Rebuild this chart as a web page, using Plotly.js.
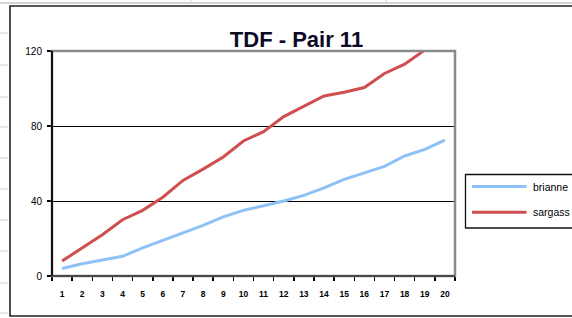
<!DOCTYPE html>
<html>
<head>
<meta charset="utf-8">
<script src="https://cdn.plot.ly/plotly-3.0.1.min.js"></script>
<style>html,body{margin:0;padding:0;background:#fff;}#chart{width:572px;height:318px;}</style>
</head>
<body>
<div id="chart"></div>
<script>
var categories = ["1","2","3","4","5","6","7","8","9","10","11","12","13","14","15","16","17","18","19","20"];
var brianneValues = [4, 6.5, 8.5, 10.5, 15, 19, 23, 27, 31.5, 35, 37.5, 40, 43, 47, 51.5, 55, 58.5, 64, 67.5, 72.5];
var sargassValues = [8, 15, 22, 30, 35, 42, 51, 57, 63.5, 72, 77, 85, 90.5, 96, 98, 100.5, 108, 113, 120.5, 128];
var seriesNames = ["brianne", "sargass"];
var yTicks = [0, 40, 80, 120];
var titleText = "TDF - Pair 11";

var seriesColors = ['#8ec1f6', '#cf4f4f'];

// plot area in pixels: left 52, right 455, top 51, bottom 276
function px(x){ return (x - 52) / 403; }
function py(y){ return (276 - y) / 225; }

var shapes = [];
var annotations = [];
// spreadsheet cell lines behind the chart
shapes.push({type:'line', xref:'paper', yref:'paper', x0:px(-5), x1:px(580), y0:py(3), y1:py(3), line:{color:'#d4d4d4', width:2}, layer:'below'});
shapes.push({type:'line', xref:'paper', yref:'paper', x0:px(191), x1:px(191), y0:py(-2), y1:py(4), line:{color:'#d4d4d4', width:1}, layer:'below'});
shapes.push({type:'line', xref:'paper', yref:'paper', x0:px(386), x1:px(386), y0:py(-2), y1:py(4), line:{color:'#d4d4d4', width:1}, layer:'below'});
[33, 65, 97, 127, 158, 189, 220, 251, 283, 313].forEach(function(v){
  shapes.push({type:'line', xref:'paper', yref:'paper', x0:px(-2), x1:px(8), y0:py(v), y1:py(v), line:{color:'#cfcfcf', width:1}, layer:'below'});
});
// chart area border
shapes.push({type:'rect', xref:'paper', yref:'paper', x0:px(10), x1:px(590), y0:py(316), y1:py(6), line:{color:'#222', width:1.6}, fillcolor:'rgba(0,0,0,0)', layer:'below'});
// plot area border (grey)
shapes.push({type:'rect', xref:'paper', yref:'paper', x0:0, x1:1, y0:0, y1:1, line:{color:'#8a8a8a', width:2.5}, fillcolor:'rgba(0,0,0,0)', layer:'above'});
// left/bottom axis lines in black
shapes.push({type:'line', xref:'paper', yref:'paper', x0:0, x1:0, y0:0, y1:1, line:{color:'#111', width:2}, layer:'above'});
shapes.push({type:'line', xref:'paper', yref:'paper', x0:0, x1:1, y0:0, y1:0, line:{color:'#333', width:1.5}, layer:'above'});

// legend box (extends past the right edge, as in the reference)
shapes.push({type:'rect', xref:'paper', yref:'paper', x0:px(465.5), x1:px(600), y0:py(228), y1:py(174.5), line:{color:'#111', width:1.3}, fillcolor:'#ffffff', layer:'above'});
var legendRows = [186.5, 212.3];
seriesNames.forEach(function(name, i){
  shapes.push({type:'line', xref:'paper', yref:'paper', x0:px(472), x1:px(526.5), y0:py(legendRows[i]), y1:py(legendRows[i]), line:{color:seriesColors[i], width:3}, layer:'above'});
  annotations.push({xref:'paper', yref:'paper', x:px(531), y:py(legendRows[i]), xanchor:'left', yanchor:'middle', text:name, showarrow:false, font:{size:10.5, color:'#000'}});
});

var data = [
  {type:'scatter', mode:'lines', name:seriesNames[0], x:categories, y:brianneValues, line:{color:seriesColors[0], width:3}},
  {type:'scatter', mode:'lines', name:seriesNames[1], x:categories, y:sargassValues, line:{color:seriesColors[1], width:3}}
];

var layout = {
  width:572, height:318,
  margin:{l:52, r:117, t:51, b:42, pad:0},
  paper_bgcolor:'#ffffff', plot_bgcolor:'#ffffff',
  font:{family:'"Liberation Sans", Arial, sans-serif', color:'#000'},
  title:{text:'<b>'+titleText+'</b>', font:{size:22, color:'#0b0b25', family:'"Liberation Sans", Arial, sans-serif'}, xref:'container', yref:'container', x:296.5/572, xanchor:'center', y:1-39/318, yanchor:'middle'},
  showlegend:false,
  xaxis:{type:'category', range:[-0.5, 19.5], tickson:'boundaries', ticks:'outside', ticklen:4, tickcolor:'#000', tickwidth:1.5,
         showgrid:false, showline:false, zeroline:false, tickfont:{size:8.5, color:'#000', weight:'bold'}, ticklabelstandoff:11, fixedrange:true},
  yaxis:{range:[0,120], tickvals:yTicks, ticktext:yTicks.map(String), ticks:'outside', ticklen:4, tickcolor:'#000', tickwidth:1.5,
         showgrid:true, gridcolor:'#000', gridwidth:1, showline:false, zeroline:false, tickfont:{size:10, color:'#000'}, ticklabelstandoff:3, fixedrange:true},
  shapes:shapes,
  annotations:annotations
};

Plotly.newPlot('chart', data, layout, {staticPlot:true, displayModeBar:false});
</script>
</body>
</html>
